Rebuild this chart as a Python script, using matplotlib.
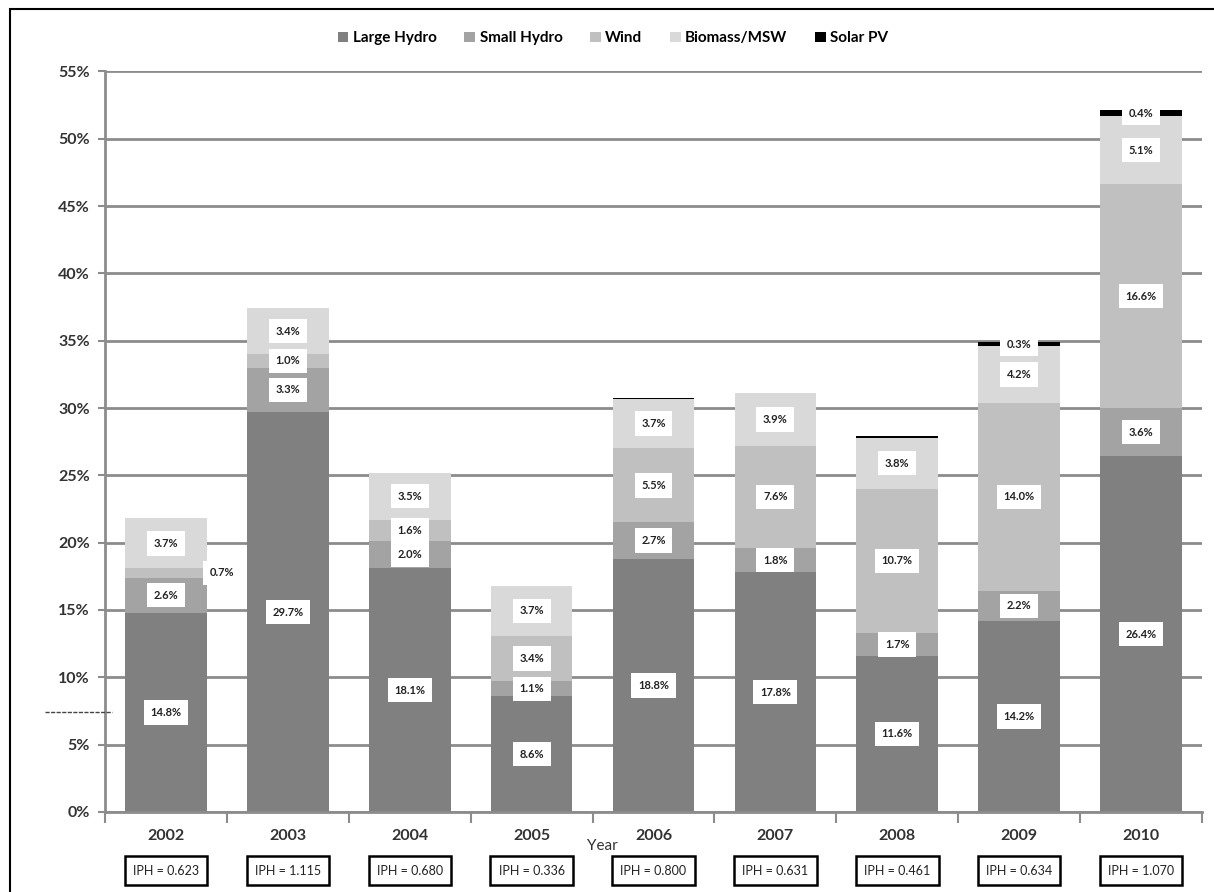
import matplotlib
matplotlib.use("Agg")
import matplotlib.pyplot as plt
import numpy as np
from matplotlib.lines import Line2D
from matplotlib.patches import Rectangle

plt.rcParams["font.family"] = ["Lato", "DejaVu Sans"]

YEARS = ["2002", "2003", "2004", "2005", "2006", "2007", "2008", "2009", "2010"]
SERIES = ["Large Hydro", "Small Hydro", "Wind", "Biomass/MSW", "Solar PV"]
LARGE_HYDRO = [14.8, 29.7, 18.1, 8.6, 18.8, 17.8, 11.6, 14.2, 26.4]
SMALL_HYDRO = [2.6, 3.3, 2.0, 1.1, 2.7, 1.8, 1.7, 2.2, 3.6]
WIND = [0.7, 1.0, 1.6, 3.4, 5.5, 7.6, 10.7, 14.0, 16.6]
BIOMASS = [3.7, 3.4, 3.5, 3.7, 3.7, 3.9, 3.8, 4.2, 5.1]
SOLAR = [0.0, 0.0, 0.0, 0.0, 0.05, 0.05, 0.1, 0.3, 0.4]
IPH = [0.623, 1.115, 0.680, 0.336, 0.800, 0.631, 0.461, 0.634, 1.070]

COLORS = ["#808080", "#a3a3a3", "#c0c0c0", "#d9d9d9", "#000000"]
GRID = "#8c8c8c"

fig = plt.figure(figsize=(12.14, 8.92), dpi=100)
ax = fig.add_axes([0.0865, 0.0897, 0.9036, 0.8303])

x = np.arange(len(YEARS))
data = [LARGE_HYDRO, SMALL_HYDRO, WIND, BIOMASS, SOLAR]
bottom = np.zeros(len(YEARS))
width = 0.67
for name, vals, col in zip(SERIES, data, COLORS):
    vals = np.array(vals)
    ax.bar(x, vals, width, bottom=bottom, color=col, label=name, zorder=2,
           linewidth=0)
    # value labels on white boxes (skip the tiny solar slivers)
    for i, v in enumerate(vals):
        if v < 0.25:
            continue
        xt = x[i]
        if name == "Wind" and v < 0.8:
            xt += 0.46  # too thin to hold its label, park it beside the bar
        ax.text(xt, bottom[i] + v / 2, f"{v:.1f}%", ha="center", va="center",
                fontsize=8, fontweight="bold", color="#222222", zorder=4,
                bbox=dict(boxstyle="square,pad=0.6", fc="white", ec="none"))
    bottom += vals

ax.set_xlim(-0.5, len(YEARS) - 0.5)
ax.set_ylim(0, 55)
ax.set_yticks(np.arange(0, 56, 5))
ax.set_yticklabels([f"{v}%" for v in range(0, 56, 5)], fontsize=11.5,
                   fontweight="bold", color="#333333")
ax.yaxis.grid(True, color=GRID, lw=2, zorder=0)
ax.set_axisbelow(True)
for s in ("top", "right"):
    ax.spines[s].set_visible(False)
for s in ("left", "bottom"):
    ax.spines[s].set_color(GRID)
    ax.spines[s].set_linewidth(2)
ax.tick_params(axis="y", length=5, width=1.5, color=GRID, pad=6)

# year labels centred, tick marks on category boundaries
ax.set_xticks(np.arange(-0.5, len(YEARS), 1.0))
ax.set_xticklabels([])
ax.tick_params(axis="x", length=8, width=1.5, color=GRID)
for i, yr in enumerate(YEARS):
    ax.text(x[i], -1.8, yr, ha="center", va="center", fontsize=11.5,
            fontweight="bold", color="#333333", clip_on=False)
    ax.text(x[i], -4.35, f"IPH = {IPH[i]:.3f}", ha="center", va="center",
            fontsize=9, color="#222222", clip_on=False,
            bbox=dict(boxstyle="square,pad=0.65", fc="white", ec="black",
                      lw=1.8))
ax.text(3.58, -2.5, "Year", ha="center", va="center", fontsize=11,
        color="#333333", clip_on=False)

fig.legend(loc="center", bbox_to_anchor=(0.505, 0.957), ncol=5,
           frameon=False, prop={"weight": "bold", "size": 11},
           handlelength=0.7, handleheight=0.7, handletextpad=0.3,
           columnspacing=1.8)

# outer frame
fig.add_artist(Rectangle((10 / 1214, -0.01), 1.02, 1 - 9 / 892 + 0.01,
                         transform=fig.transFigure, fill=False,
                         ec="black", lw=1.5))
fig.add_artist(Line2D([45 / 1214, 112 / 1214], [1 - 712 / 892] * 2,
                      transform=fig.transFigure, color="#444444", lw=1,
                      ls=(0, (3, 1))))

fig.savefig("out.png", dpi=100, facecolor="white")
